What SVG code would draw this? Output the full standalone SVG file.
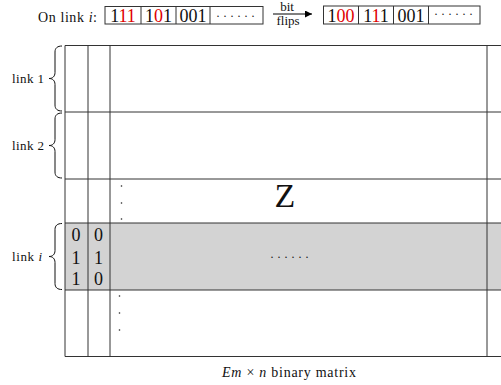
<svg xmlns="http://www.w3.org/2000/svg" width="501" height="385" viewBox="0 0 501 385">
<style>
  text { font-family: "Liberation Serif", "DejaVu Serif", serif; fill: #111; }
  .box { fill: none; stroke: #333; stroke-width: 1; }
  .bits { font-size: 18px; text-anchor: middle; }
  .red { fill: #e00000; }
  .dots { font-size: 12px; text-anchor: middle; letter-spacing: 3px; }
  .grid { stroke: #333; stroke-width: 1; fill: none; }
  .brace { fill: none; stroke: #111; stroke-width: 1; }
  .lbl { font-size: 13px; }
  .sm { font-size: 13px; text-anchor: middle; }
  .vd { fill: #222; }
</style>
<defs>
  <marker id="ah" viewBox="0 0 10 10" refX="10" refY="5" markerWidth="8" markerHeight="7" markerUnits="userSpaceOnUse" orient="auto">
    <path d="M0,0 L10,5 L0,10 z" fill="#000"/>
  </marker>
</defs>

<g id="before">
  <text x="38" y="22" font-size="14" textLength="59">On link <tspan font-style="italic">i</tspan>:</text>
  <rect class="box" x="105" y="6.5" width="158" height="17.5"/>
  <line class="box" x1="141" y1="6.5" x2="141" y2="24"/>
  <line class="box" x1="176" y1="6.5" x2="176" y2="24"/>
  <line class="box" x1="210" y1="6.5" x2="210" y2="24"/>
  <text class="bits" x="123" y="22">1<tspan class="red">11</tspan></text>
  <text class="bits" x="158.5" y="22">1<tspan class="red">0</tspan>1</text>
  <text class="bits" x="193" y="22">001</text>
  <text class="dots" x="237" y="20">······</text>
</g>

<g id="connectors">
  <line x1="273" y1="14" x2="312" y2="14" stroke="#000" stroke-width="1" marker-end="url(#ah)"/>
</g>
<g id="arrow-label">
  <text class="sm" x="287" y="10.5">bit</text>
  <text class="sm" x="288" y="25">flips</text>
</g>

<g id="after">
  <rect class="box" x="323.5" y="6" width="156.5" height="18"/>
  <line class="box" x1="358.5" y1="6" x2="358.5" y2="24"/>
  <line class="box" x1="393.5" y1="6" x2="393.5" y2="24"/>
  <line class="box" x1="428.5" y1="6" x2="428.5" y2="24"/>
  <text class="bits" x="341" y="22">1<tspan class="red">00</tspan></text>
  <text class="bits" x="376" y="22">1<tspan class="red">1</tspan>1</text>
  <text class="bits" x="411" y="22">001</text>
  <text class="dots" x="455" y="17.5">······</text>
</g>

<g id="matrix">
  <rect x="65" y="223" width="436" height="67" fill="#d3d3d3"/>
  <line class="grid" x1="65" y1="45.5" x2="501" y2="45.5"/>
  <line class="grid" x1="65" y1="112" x2="501" y2="112"/>
  <line class="grid" x1="65" y1="179" x2="501" y2="179"/>
  <line class="grid" x1="65" y1="223" x2="501" y2="223"/>
  <line class="grid" x1="65" y1="290" x2="501" y2="290"/>
  <line class="grid" x1="65" y1="356.5" x2="501" y2="356.5"/>
  <line class="grid" x1="65" y1="45.5" x2="65" y2="356.5"/>
  <line class="grid" x1="88" y1="45.5" x2="88" y2="356.5"/>
  <line class="grid" x1="110" y1="45.5" x2="110" y2="356.5"/>
  <line class="grid" x1="487" y1="45.5" x2="487" y2="356.5"/>
  <text x="285" y="207" font-size="34" text-anchor="middle">Z</text>
  <text class="dots" x="291" y="260.5" font-size="11">······</text>
  <circle class="vd" cx="121.5" cy="186" r="0.8"/>
  <circle class="vd" cx="121.5" cy="203" r="0.8"/>
  <circle class="vd" cx="121.5" cy="219" r="0.8"/>
  <circle class="vd" cx="119.5" cy="296" r="0.8"/>
  <circle class="vd" cx="119.5" cy="313" r="0.8"/>
  <circle class="vd" cx="119.5" cy="330" r="0.8"/>
  <text class="bits" x="76" y="240.5">0</text>
  <text class="bits" x="98.5" y="240.5">0</text>
  <text class="bits" x="76" y="263.5">1</text>
  <text class="bits" x="98.5" y="263.5">1</text>
  <text class="bits" x="76" y="285">1</text>
  <text class="bits" x="98.5" y="285">0</text>
</g>

<g id="link1">
  <path class="brace" d="M62,46 C57.5,46 55,48 55,52 L55,72.5 C55,76.5 52.5,78.5 49,78.5 C52.5,78.5 55,80.5 55,84.5 L55,105 C55,109 57.5,111 62,111"/>
  <text class="lbl" x="12" y="83" textLength="32">link 1</text>
</g>
<g id="link2">
  <path class="brace" d="M62,113 C57.5,113 55,115 55,119 L55,139.5 C55,143.5 52.5,145.5 49,145.5 C52.5,145.5 55,147.5 55,151.5 L55,172 C55,176 57.5,178 62,178"/>
  <text class="lbl" x="12" y="150" textLength="32">link 2</text>
</g>
<g id="linki">
  <path class="brace" d="M62,223.5 C57.5,223.5 55,225.5 55,229.5 L55,250.5 C55,254.5 52.5,256.5 49,256.5 C52.5,256.5 55,258.5 55,262.5 L55,283.5 C55,287.5 57.5,289.5 62,289.5"/>
  <text class="lbl" x="12" y="261" textLength="30">link <tspan font-style="italic">i</tspan></text>
</g>

<g id="caption">
  <text x="222" y="377" font-size="14" textLength="134"><tspan font-style="italic">Em</tspan> × <tspan font-style="italic">n</tspan> binary matrix</text>
</g>
</svg>
